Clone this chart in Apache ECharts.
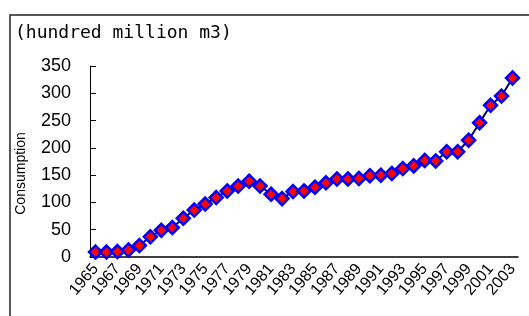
<!DOCTYPE html>
<html>
<head>
<meta charset="utf-8">
<script src="https://cdn.jsdelivr.net/npm/echarts@6/dist/echarts.min.js"></script>
<style>
  html, body { margin: 0; padding: 0; background: white; }
  #chartEntry { width: 529px; height: 316px; }
</style>
</head>
<body>
<div id="chartEntry"></div>
<script>
const years = [];
for (let y = 1965; y <= 2003; y++) years.push(String(y));

const consumption = [
  9, 9, 10, 13, 21, 37, 49, 54, 71, 86,
  97, 109, 121, 130, 139, 130, 115, 107, 120, 121,
  128, 136, 143, 143, 144, 149, 150, 153, 162, 167,
  177, 176, 193, 193, 214, 246, 278, 295, 328
];

const yTicks = { min: 0, max: 350, interval: 50 };

const chart = echarts.init(document.getElementById('chartEntry'));

const chartOptions = {
  animation: false,
  backgroundColor: 'white',
  grid: {
    left: 90,
    right: 11,
    top: 66,
    bottom: 59
  },
  graphic: [
    {
      type: 'rect',
      shape: { x: 10, y: 15, width: 700, height: 500 },
      style: { fill: 'transparent', stroke: '#222', lineWidth: 1.5 },
      silent: true
    },
    {
      type: 'text',
      x: 15,
      y: 24,
      style: {
        text: '(hundred million m3)',
        font: '18px "DejaVu Sans Mono"',
        fill: '#000'
      }
    }
  ],
  xAxis: {
    type: 'category',
    data: years,
    boundaryGap: true,
    axisLine: { lineStyle: { color: '#000', width: 1.5 } },
    axisTick: {
      inside: true,
      length: 6,
      interval: 0,
      lineStyle: { color: '#000' }
    },
    axisLabel: {
      interval: 1,
      rotate: 50,
      margin: 9,
      color: '#000',
      fontFamily: 'Liberation Sans',
      fontSize: 16
    },
    splitLine: { show: false }
  },
  yAxis: {
    type: 'value',
    min: yTicks.min,
    max: yTicks.max,
    interval: yTicks.interval,
    name: 'Consumption',
    nameLocation: 'middle',
    nameGap: 62,
    nameRotate: 90,
    nameTextStyle: {
      color: '#000',
      fontFamily: 'Liberation Sans',
      fontSize: 14,
      padding: [0, 24, 0, 0]
    },
    axisLine: { show: true, lineStyle: { color: '#000', width: 1 } },
    axisTick: {
      show: true,
      inside: true,
      length: 6,
      lineStyle: { color: '#000' }
    },
    axisLabel: {
      margin: 19,
      color: '#000',
      fontFamily: 'Liberation Sans',
      fontSize: 18
    },
    splitLine: { show: false }
  },
  series: [
    {
      type: 'line',
      data: consumption,
      symbol: 'diamond',
      symbolSize: 13,
      showAllSymbol: true,
      lineStyle: { color: '#000066', width: 2 },
      itemStyle: { color: '#ff0000', borderColor: '#0000ff', borderWidth: 2.5 }
    }
  ]
};

chart.setOption(chartOptions);
</script>
</body>
</html>
